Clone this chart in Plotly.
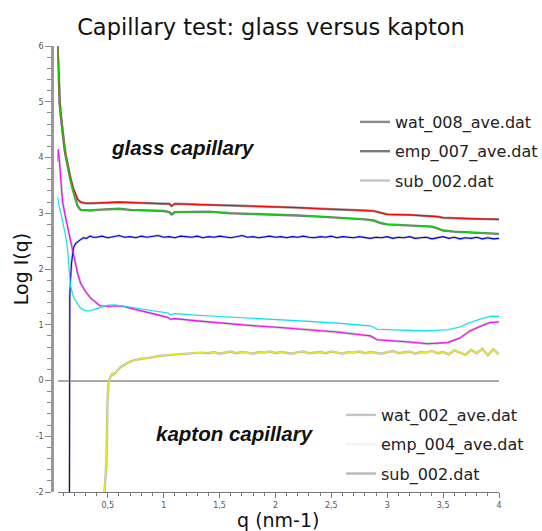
import plotly.graph_objects as go

# ---------------- data ----------------
q_glass = [0.05, 0.06, 0.07, 0.08, 0.095, 0.11, 0.12, 0.14, 0.166, 0.19,
           0.21, 0.23, 0.256, 0.3, 0.35, 0.4, 0.5, 0.6, 0.7, 0.8,
           0.9, 1.0, 1.05, 1.07, 1.1, 1.2, 1.4, 1.6, 1.8, 2.0,
           2.2, 2.4, 2.6, 2.8, 2.88, 2.95, 3.0, 3.2, 3.4, 3.45,
           3.5, 3.6, 3.8, 4.0]
wat_008 = [6.0, 5.36, 4.98, 4.75, 4.41, 4.22, 4.07, 3.85, 3.63, 3.45,
           3.35, 3.25, 3.2, 3.18, 3.18, 3.18, 3.19, 3.2, 3.19, 3.18,
           3.18, 3.17, 3.17, 3.13, 3.17, 3.16, 3.15, 3.14, 3.13, 3.11,
           3.1, 3.08, 3.07, 3.05, 3.04, 3.0, 2.98, 2.97, 2.95, 2.94,
           2.92, 2.91, 2.9, 2.89]
emp_007 = [6.0, 5.36, 4.98, 4.75, 4.41, 4.22, 4.07, 3.85, 3.6, 3.4,
           3.25, 3.13, 3.06, 3.05, 3.05, 3.06, 3.07, 3.08, 3.06, 3.05,
           3.04, 3.04, 3.02, 2.98, 3.02, 3.02, 3.03, 3.0, 2.99, 2.98,
           2.96, 2.94, 2.92, 2.89, 2.87, 2.82, 2.8, 2.78, 2.76, 2.73,
           2.69, 2.67, 2.65, 2.63]

q_sub_glass = [0.157, 0.158, 0.16, 0.166, 0.175, 0.193, 0.21, 0.238, 0.28, 0.31,
               0.34, 0.37,
               0.40, 0.45, 0.50, 0.55, 0.60, 0.65, 0.70, 0.75, 0.80, 0.85,
               0.90, 0.95, 1.00, 1.05, 1.10, 1.15, 1.20, 1.25, 1.30, 1.35,
               1.40, 1.45, 1.50, 1.55, 1.60, 1.65, 1.70, 1.75, 1.80, 1.85,
               1.90, 1.95, 2.00, 2.05, 2.10, 2.15, 2.20, 2.25, 2.30, 2.35,
               2.40, 2.45, 2.50, 2.55, 2.60, 2.65, 2.70, 2.75, 2.80, 2.85,
               2.90, 2.95, 3.00, 3.05, 3.10, 3.15, 3.20, 3.25, 3.30, 3.35,
               3.40, 3.45, 3.50, 3.55, 3.60, 3.65, 3.70, 3.75, 3.80, 3.85,
               3.90, 3.95, 4.00]
sub_002_glass = [-2.0, 1.2, 1.5, 1.8, 2.1, 2.38, 2.45, 2.5, 2.56, 2.55,
                 2.59, 2.57,
                 2.57, 2.59, 2.56, 2.58, 2.60, 2.57, 2.58, 2.56, 2.59, 2.57,
                 2.58, 2.60, 2.57, 2.58, 2.56, 2.59, 2.58, 2.57, 2.59, 2.56,
                 2.58, 2.57, 2.59, 2.58, 2.56, 2.58, 2.60, 2.57, 2.58, 2.56,
                 2.58, 2.59, 2.57, 2.58, 2.56, 2.58, 2.57, 2.59, 2.57, 2.56,
                 2.58, 2.57, 2.59, 2.56, 2.58, 2.57, 2.56, 2.58, 2.57, 2.55,
                 2.57, 2.56, 2.58, 2.55, 2.57, 2.56, 2.58, 2.55, 2.56, 2.57,
                 2.54, 2.56, 2.58, 2.55, 2.57, 2.54, 2.56, 2.55, 2.57, 2.54,
                 2.56, 2.54, 2.55]

q_kapton = [0.05, 0.055, 0.065, 0.08, 0.095, 0.12, 0.14, 0.166, 0.196, 0.23,
            0.256, 0.3, 0.345, 0.39, 0.43, 0.5, 0.56, 0.64, 0.75, 0.9,
            1.0, 1.04, 1.06, 1.1, 1.3, 1.5, 1.75, 2.04, 2.3, 2.55,
            2.76, 2.85, 2.91, 3.0, 3.2, 3.36, 3.54, 3.65, 3.74, 3.83,
            3.92, 4.0]
wat_002 = [3.93, 4.15, 4.0, 3.6, 3.21, 2.95, 2.75, 2.55, 2.2, 1.92,
           1.75, 1.6, 1.48, 1.4, 1.34, 1.33, 1.34, 1.33, 1.28, 1.2,
           1.15, 1.13, 1.1, 1.11, 1.07, 1.03, 0.99, 0.95, 0.91, 0.87,
           0.82, 0.8, 0.73, 0.72, 0.69, 0.66, 0.68, 0.76, 0.89, 0.97,
           1.04, 1.05]
emp_004 = [3.3, 3.2, 3.12, 3.0, 2.85, 2.62, 2.35, 1.7, 1.48, 1.38,
           1.3, 1.25, 1.25, 1.28, 1.31, 1.35, 1.36, 1.34, 1.3, 1.25,
           1.22, 1.21, 1.18, 1.2, 1.17, 1.15, 1.12, 1.09, 1.06, 1.03,
           1.0, 0.98, 0.92, 0.91, 0.9, 0.89, 0.91, 0.96, 1.04, 1.1,
           1.15, 1.15]

q_sub_kapton = [0.47, 0.48, 0.488, 0.497, 0.506, 0.52, 0.54, 0.55, 0.58, 0.613,
                0.65, 0.69, 0.73, 0.8, 0.88, 0.96, 1.06, 1.15, 1.25, 1.33,
                1.40, 1.45, 1.50, 1.55, 1.60, 1.65, 1.70, 1.75, 1.80, 1.85,
                1.90, 1.95, 2.00, 2.05, 2.10, 2.15, 2.20, 2.25, 2.30, 2.35,
                2.40, 2.45, 2.50, 2.55, 2.60, 2.65, 2.70, 2.75, 2.80, 2.85,
                2.90, 2.95, 3.00, 3.05, 3.10, 3.15, 3.20, 3.25, 3.30, 3.35,
                3.40, 3.45, 3.50, 3.55, 3.60, 3.65, 3.70, 3.75, 3.80, 3.85,
                3.90, 3.95, 4.00]
sub_002_kapton = [-2.0, -1.7, -1.49, -0.41, -0.05, 0.05, 0.12, 0.1, 0.17, 0.24,
                  0.28, 0.33, 0.36, 0.39, 0.41, 0.44, 0.46, 0.47, 0.49, 0.5,
                  0.49, 0.51, 0.48, 0.50, 0.52, 0.49, 0.51, 0.50, 0.48, 0.51,
                  0.50, 0.52, 0.49, 0.51, 0.50, 0.48, 0.51, 0.52, 0.49, 0.50,
                  0.51, 0.49, 0.52, 0.50, 0.48, 0.51, 0.50, 0.52, 0.49, 0.51,
                  0.50, 0.48, 0.51, 0.53, 0.49, 0.50, 0.52, 0.48, 0.51, 0.50,
                  0.53, 0.49, 0.51, 0.47, 0.54, 0.50, 0.46, 0.55, 0.49, 0.57,
                  0.45, 0.56, 0.47]

x_tickvals = [0.5, 1, 1.5, 2, 2.5, 3, 3.5, 4]
x_ticktext = ["0,5", "1", "1,5", "2", "2,5", "3", "3,5", "4"]
y_tickvals = [-2, -1, 0, 1, 2, 3, 4, 5, 6]
y_ticktext = ["-2", "-1", "0", "1", "2", "3", "4", "5", "6"]

# (name, q, values, data colour, legend/halo grey, legend)
series = [
    ("wat_008_ave.dat", q_glass, wat_008, "#ff0000", "#8c8c8c", "legend"),
    ("emp_007_ave.dat", q_glass, emp_007, "#00dd00", "#7a7a7a", "legend"),
    ("sub_002.dat", q_sub_glass, sub_002_glass, "#0000ee", "#c4c4c4", "legend"),
    ("wat_002_ave.dat", q_kapton, wat_002, "#ff00ff", "#c4c4c4", "legend2"),
    ("emp_004_ave.dat", q_kapton, emp_004, "#00e5ee", "#f4f4f4", "legend2"),
    ("sub_002.dat", q_sub_kapton, sub_002_kapton, "#f0f000", "#b8b8b8", "legend2"),
]

fig = go.Figure()
for i, (name, qx, vals, col, grey, leg) in enumerate(series):
    fig.add_trace(go.Scatter(
        x=qx, y=vals, mode="lines", name=name, legend=leg,
        legendgroup="g%d" % i,
        line=dict(color=grey, width=2.4), showlegend=True))
for i, (name, qx, vals, col, grey, leg) in enumerate(series):
    fig.add_trace(go.Scatter(
        x=qx, y=vals, mode="lines", name=name, legend=leg,
        legendgroup="g%d" % i,
        line=dict(color=col, width=1.1), showlegend=False))

W, H = 542, 531
ml, mr, mt, mb = 52, 43, 46, 39
pw = W - ml - mr
ph = H - mt - mb

axis_font = dict(family="DejaVu Sans", size=8, color="#555555")
fig.update_layout(
    width=W, height=H,
    margin=dict(l=ml, r=mr, t=mt, b=mb, pad=0, autoexpand=False),
    paper_bgcolor="white", plot_bgcolor="white",
    title=dict(text="Capillary test: glass versus kapton",
               font=dict(family="DejaVu Sans", size=22.5, color="#111111"),
               x=0.5, xanchor="center", xref="container",
               y=1 - 27 / H, yanchor="middle", yref="container"),
    xaxis=dict(range=[0.05, 4.0], domain=[5.5 / pw, 1],
               tickmode="array", tickvals=x_tickvals, ticktext=x_ticktext,
               ticks="outside", ticklen=5, tickcolor="#777777", tickwidth=1,
               minor=dict(tickmode="linear", tick0=0, dtick=0.1,
                          ticks="outside", ticklen=3, tickcolor="#777777"),
               showline=True, linecolor="#777777", linewidth=1.2,
               showgrid=False, zeroline=False, tickfont=axis_font,
               title=dict(text="q (nm-1)", standoff=7,
                          font=dict(family="DejaVu Sans", size=19, color="#111111"))),
    yaxis=dict(range=[-2, 6], anchor="free", position=0,
               tickmode="array", tickvals=y_tickvals, ticktext=y_ticktext,
               ticks="outside", ticklen=6, tickcolor="#888888", tickwidth=1,
               minor=dict(tickmode="linear", tick0=0, dtick=0.2,
                          ticks="outside", ticklen=4, tickcolor="#888888"),
               showline=True, linecolor="#999999", linewidth=2.5,
               showgrid=False, zeroline=True, zerolinecolor="#aaaaaa",
               zerolinewidth=2, tickfont=axis_font,
               title=dict(text="Log I(q)", standoff=1,
                          font=dict(family="DejaVu Sans", size=19, color="#111111"))),
    legend=dict(x=355 / W, xref="container", xanchor="left",
                y=1 - 105 / H, yref="container", yanchor="top",
                traceorder="grouped", tracegroupgap=5.5,
                bgcolor="rgba(0,0,0,0)", borderwidth=0,
                font=dict(family="DejaVu Sans", size=16, color="#222222")),
    legend2=dict(x=341 / W, xref="container", xanchor="left",
                 y=1 - 398 / H, yref="container", yanchor="top",
                 traceorder="grouped", tracegroupgap=5.5,
                 bgcolor="rgba(0,0,0,0)", borderwidth=0,
                 font=dict(family="DejaVu Sans", size=16, color="#222222")),
    showlegend=True,
)

lab_font = dict(family="Liberation Sans", size=20.5, color="#111111")
fig.add_annotation(text="<b><i>glass capillary</i></b>",
                   x=(183 - ml) / pw, y=(H - mb - 147) / ph,
                   xref="paper", yref="paper", showarrow=False, font=lab_font,
                   xanchor="center", yanchor="middle")
fig.add_annotation(text="<b><i>kapton capillary</i></b>",
                   x=(235 - ml) / pw, y=(H - mb - 433) / ph,
                   xref="paper", yref="paper", showarrow=False, font=lab_font,
                   xanchor="center", yanchor="middle")

fig.write_html("out.html")
